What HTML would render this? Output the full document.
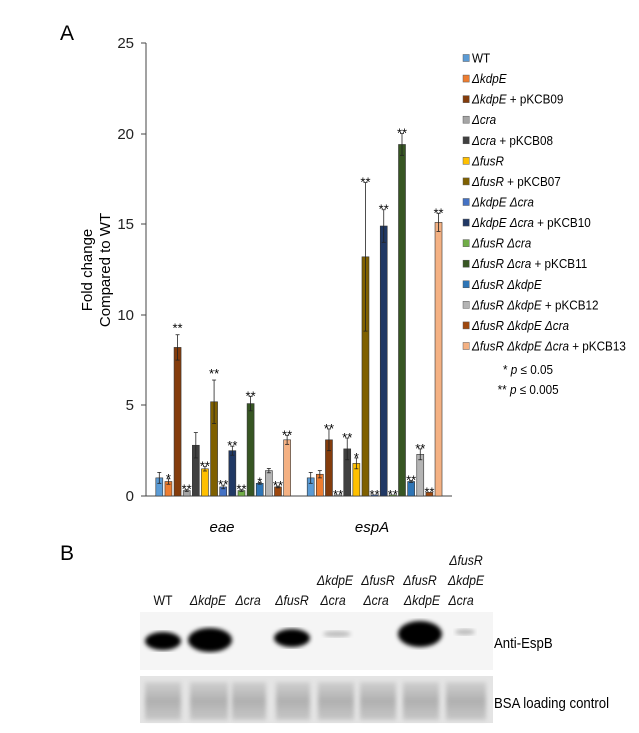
<!DOCTYPE html>
<html><head><meta charset="utf-8"><style>
body{margin:0;background:#fff}
svg{display:block;font-family:"Liberation Sans",Arial,sans-serif}
</style></head><body>
<svg width="639" height="733" viewBox="0 0 639 733">
<defs>
<filter id="blur2"><feGaussianBlur stdDeviation="2"/></filter>
<linearGradient id="lane" x1="0" y1="0" x2="0" y2="1">
<stop offset="0" stop-color="#d0d0d0"/><stop offset="0.5" stop-color="#b0b0b0"/><stop offset="1" stop-color="#c8c8c8"/></linearGradient>
</defs>
<text x="60" y="40" font-size="21">A</text>
<text x="60" y="560" font-size="21">B</text>
<g stroke="#444" stroke-width="1" fill="none">
<line x1="146" y1="43" x2="146" y2="496"/>
<line x1="146" y1="496" x2="452" y2="496"/>
<line x1="141" y1="43" x2="146" y2="43"/><line x1="141" y1="134" x2="146" y2="134"/>
<line x1="141" y1="224" x2="146" y2="224"/><line x1="141" y1="315" x2="146" y2="315"/>
<line x1="141" y1="405" x2="146" y2="405"/><line x1="141" y1="496" x2="146" y2="496"/>
</g>
<g font-size="15" text-anchor="end" fill="#222">
<text x="134" y="48">25</text><text x="134" y="139">20</text><text x="134" y="229">15</text>
<text x="134" y="320">10</text><text x="134" y="410">5</text><text x="134" y="501">0</text>
</g>
<text transform="translate(92,270) rotate(-90)" font-size="15" text-anchor="middle">Fold change</text>
<text transform="translate(110,270) rotate(-90)" font-size="15" text-anchor="middle">Compared to WT</text>
<text x="222" y="532" font-size="15" font-style="italic" text-anchor="middle">eae</text>
<text x="372" y="532" font-size="15" font-style="italic" text-anchor="middle">espA</text>
<g id="bars"></g>
<g id="legend" font-size="13" transform="translate(472,0) scale(0.9,1)"></g>
<g font-size="13" transform="translate(503,0) scale(0.9,1)">
<text x="0" y="374">*  <tspan font-style="italic">p</tspan> ≤ 0.05</text>
<text x="-6" y="394">** <tspan font-style="italic">p</tspan> ≤ 0.005</text>
</g>
<g font-size="14" font-style="italic" text-anchor="middle" fill="#111">
<g transform="translate(163,605) scale(0.88,1)"><text font-style="normal">WT</text></g>
<g transform="translate(208,605) scale(0.88,1)"><text>ΔkdpE</text></g>
<g transform="translate(248,605) scale(0.88,1)"><text>Δcra</text></g>
<g transform="translate(292,605) scale(0.88,1)"><text>ΔfusR</text></g>
<g transform="translate(335,585) scale(0.88,1)"><text>ΔkdpE</text></g>
<g transform="translate(333,605) scale(0.88,1)"><text>Δcra</text></g>
<g transform="translate(378,585) scale(0.88,1)"><text>ΔfusR</text></g>
<g transform="translate(376,605) scale(0.88,1)"><text>Δcra</text></g>
<g transform="translate(420,585) scale(0.88,1)"><text>ΔfusR</text></g>
<g transform="translate(422,605) scale(0.88,1)"><text>ΔkdpE</text></g>
<g transform="translate(466,565) scale(0.88,1)"><text>ΔfusR</text></g>
<g transform="translate(466,585) scale(0.88,1)"><text>ΔkdpE</text></g>
<g transform="translate(461,605) scale(0.88,1)"><text>Δcra</text></g>
</g>
<rect x="140" y="612" width="353" height="58" fill="#f5f5f5"/>
<g fill="#000">
<ellipse cx="163" cy="641" rx="18" ry="9" filter="url(#blur2)"/>
<ellipse cx="210" cy="640" rx="22" ry="12" filter="url(#blur2)"/>
<ellipse cx="292" cy="638" rx="18" ry="9" filter="url(#blur2)"/>
<ellipse cx="420" cy="634" rx="22" ry="13" filter="url(#blur2)"/>
<ellipse cx="337" cy="634" rx="14" ry="3" fill="#bbb" filter="url(#blur2)"/>
<ellipse cx="465" cy="632" rx="10" ry="3" fill="#bbb" filter="url(#blur2)"/>
</g>
<rect x="140" y="676" width="353" height="47" fill="#e4e4e4"/>
<g fill="url(#lane)" filter="url(#blur2)">
<rect x="145" y="682" width="36" height="38"/><rect x="190" y="682" width="38" height="38"/>
<rect x="232" y="682" width="34" height="38"/><rect x="276" y="682" width="34" height="38"/>
<rect x="318" y="682" width="36" height="38"/><rect x="360" y="682" width="36" height="38"/>
<rect x="403" y="682" width="36" height="38"/><rect x="446" y="682" width="40" height="38"/>
</g>
<g font-size="15" transform="translate(494,648) scale(0.88,1)"><text>Anti-EspB</text></g>
<g font-size="15" transform="translate(494,708) scale(0.88,1)"><text>BSA loading control</text></g>
</svg>
<script>
var colors=["#5b9bd5","#ed7d31","#843c0c","#a5a5a5","#404040","#ffc000","#7f6000","#4472c4","#203864","#70ad47","#375623","#2e75b6","#b4b4b4","#9e480e","#f4b183"];
var eae=[[1.0,.3,""],[.8,.15,"*"],[8.2,.7,"**"],[.3,.05,"**"],[2.8,.7,""],[1.5,.12,"**"],[5.2,1.2,"**"],[.5,.1,"**"],[2.5,.25,"**"],[.3,.05,"**"],[5.1,.4,"**"],[.7,.05,"*"],[1.4,.12,""],[.5,.05,"**"],[3.1,.25,"**"]];
var esp=[[1.0,.3,""],[1.2,.2,""],[3.1,.6,"**"],[.06,0,"**"],[2.6,.6,"**"],[1.8,.3,"*"],[13.2,4.1,"**"],[.06,0,"**"],[14.9,.9,"**"],[.06,0,"**"],[19.4,.6,"**"],[.8,.05,"**"],[2.3,.3,"**"],[.2,0,"**"],[15.1,.5,"**"]];
var g=document.getElementById("bars"),s="";
function y(v){return 496-v*18.12;}
function draw(data,x0){data.forEach(function(d,i){var cx=x0+i*9.13,top=y(d[0]);
s+='<rect x="'+(cx-3.5)+'" y="'+top+'" width="7" height="'+(496-top)+'" fill="'+colors[i]+'" stroke="#333" stroke-width="0.6"/>';
if(d[1]>0){var a=y(d[0]+d[1]),b=y(d[0]-d[1]);s+='<g stroke="#222" stroke-width="0.8"><line x1="'+cx+'" y1="'+a+'" x2="'+cx+'" y2="'+b+'"/><line x1="'+(cx-2)+'" y1="'+a+'" x2="'+(cx+2)+'" y2="'+a+'"/><line x1="'+(cx-2)+'" y1="'+b+'" x2="'+(cx+2)+'" y2="'+b+'"/></g>';}
if(d[2]){var ty=y(d[0]+d[1])-3;if(d[0]>5&&x0<200&&d[1]>0.5)ty-=6;s+='<text x="'+cx+'" y="'+(ty+7)+'" font-size="13" text-anchor="middle">'+d[2]+'</text>';}
});}
draw(eae,159.3);draw(esp,310.7);
g.innerHTML=s;
var I=function(t){return "<tspan font-style='italic'>"+t+"</tspan>";};
var labels=["WT",I("ΔkdpE"),I("ΔkdpE")+" + pKCB09",I("Δcra"),I("Δcra")+" + pKCB08",I("ΔfusR"),I("ΔfusR")+" + pKCB07",I("ΔkdpE Δcra"),I("ΔkdpE Δcra")+" + pKCB10",I("ΔfusR Δcra"),I("ΔfusR Δcra")+" + pKCB11",I("ΔfusR ΔkdpE"),I("ΔfusR ΔkdpE")+" + pKCB12",I("ΔfusR ΔkdpE Δcra"),I("ΔfusR ΔkdpE Δcra")+" + pKCB13"];
var L="";labels.forEach(function(t,i){var yy=58+i*20.57;L+='<rect x="-10" y="'+(yy-3.5)+'" width="7" height="7" fill="'+colors[i]+'" stroke="#555" stroke-width="0.5"/><text x="0" y="'+(yy+4.5)+'">'+t+'</text>';});
document.getElementById("legend").innerHTML=L;
</script>
</body></html>
